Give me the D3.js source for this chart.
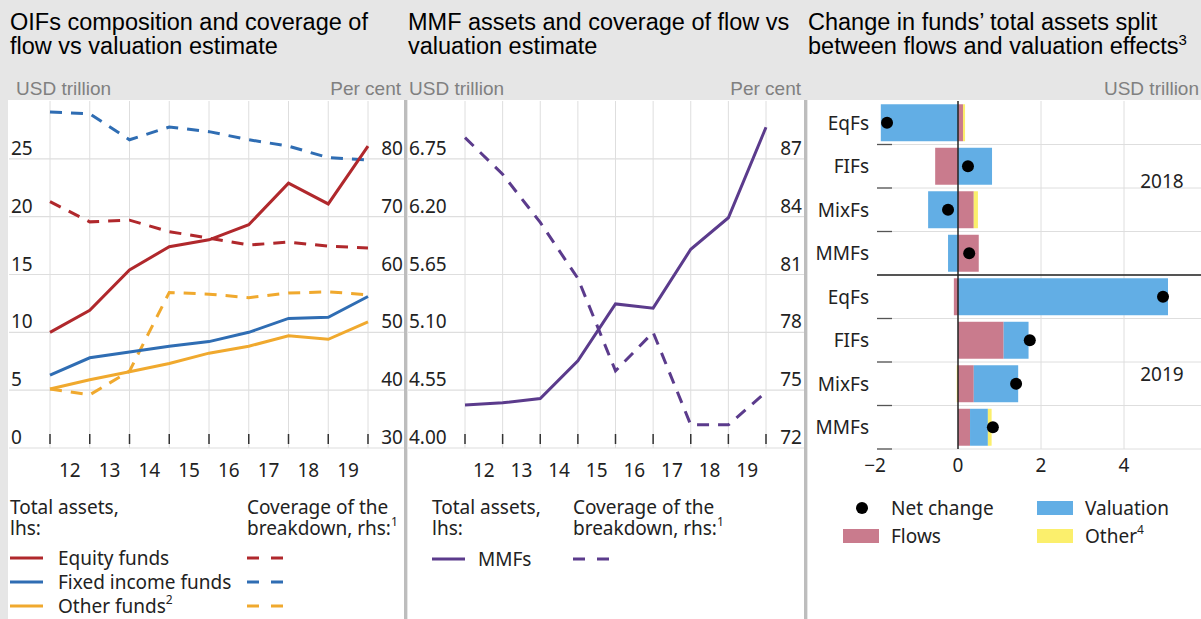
<!DOCTYPE html>
<html>
<head>
<meta charset="utf-8">
<script src="https://cdn.jsdelivr.net/npm/d3@7"></script>
<style>
  body { margin: 0; background: #e6e6e6; }
  svg text { font-family: "Noto Sans", sans-serif; }
  .title { font-family: "Liberation Sans", Arial, sans-serif; font-size: 23.5px; fill: #000; }
  .unit { font-family: "Liberation Sans", Arial, sans-serif; font-size: 19px; fill: #808080; }
  .tick { font-size: 19px; fill: #222; }
  .leg { font-size: 19px; fill: #222; }
</style>
</head>
<body>
<div class="chart"></div>
<script>
// panel 1 & 2: year-end values, 2011..2019
var years = [2011, 2012, 2013, 2014, 2015, 2016, 2017, 2018, 2019];
var yearLabels = ['12', '13', '14', '15', '16', '17', '18', '19'];

var equityAssets = [10.0, 11.9, 15.4, 17.4, 18.0, 19.3, 22.9, 21.1, 26.1];
var fixedAssets = [6.3, 7.8, 8.3, 8.8, 9.2, 10.0, 11.2, 11.3, 13.1];
var otherAssets = [5.1, 5.9, 6.6, 7.3, 8.2, 8.8, 9.7, 9.4, 10.9];
var equityCoverage = [72.6, 69.1, 69.4, 67.4, 66.3, 65.1, 65.6, 64.9, 64.6];
var fixedCoverage = [88.1, 87.8, 83.3, 85.5, 84.7, 83.3, 82.2, 80.2, 79.8];
var otherCoverage = [40.2, 39.2, 43.3, 56.9, 56.6, 56.0, 56.8, 57.0, 56.5];

var mmfAssets = [4.41, 4.43, 4.47, 4.83, 5.37, 5.33, 5.89, 6.19, 7.05];
var mmfCoverage = [88.1, 86.2, 83.7, 80.8, 76.0, 78.0, 73.2, 73.2, 74.9];

var p1LeftTicks = [0, 5, 10, 15, 20, 25];
var p1RightTicks = [30, 40, 50, 60, 70, 80];
var p2LeftTicks = [4.00, 4.55, 5.10, 5.65, 6.20, 6.75];
var p2RightTicks = [72, 75, 78, 81, 84, 87];

// panel 3
var fundTypes = ['EqFs', 'FIFs', 'MixFs', 'MMFs'];
var flows2018 = [0.12, -0.55, 0.38, 0.50];
var valuation2018 = [-1.86, 0.82, -0.72, -0.24];
var other2018 = [0.05, 0.0, 0.10, 0.0];
var net2018 = [-1.71, 0.24, -0.24, 0.27];
var flows2019 = [-0.10, 1.10, 0.38, 0.29];
var valuation2019 = [5.06, 0.60, 1.07, 0.43];
var other2019 = [0.0, 0.0, -0.03, 0.09];
var net2019 = [4.94, 1.73, 1.40, 0.84];
var changeTicks = [-2, 0, 2, 4];

var red = '#b0282c', blue = '#2f6db3', orange = '#f0a92e', purple = '#5b3b8c';
var flowCol = '#c97b8d', valCol = '#62aee5', othCol = '#fbef6c';
var gridCol = '#dedede';

var W = 1201, H = 619;
var svg = d3.select('.chart').append('svg')
    .attr('width', W).attr('height', H);

svg.append('rect').attr('width', W).attr('height', H).attr('fill', '#e6e6e6');
// white panels
[[8, 397], [408, 397], [808, 393]].forEach(function(p) {
    svg.append('rect').attr('x', p[0]).attr('y', 100).attr('width', p[1]).attr('height', H - 100)
        .attr('fill', '#fff');
});
[405.5, 805.5].forEach(function(x) {
    svg.append('line').attr('x1', x).attr('x2', x).attr('y1', 100).attr('y2', H)
        .attr('stroke', '#bdbdbd').attr('stroke-width', 3);
});

// titles
function title(x, lines) {
    var t = svg.append('text').attr('class', 'title').attr('x', x).attr('y', 30);
    lines.forEach(function(l, i) {
        t.append('tspan').attr('x', x).attr('dy', i ? 24 : 0).text(l[0]);
        if (l[1]) t.append('tspan').attr('dy', -9).attr('font-size', 15).text(l[1]);
    });
}
title(10, [['OIFs composition and coverage of'], ['flow vs valuation estimate']]);
title(408, [['MMF assets and coverage of flow vs'], ['valuation estimate']]);
title(808, [['Change in funds\u2019 total assets split'], ['between flows and valuation effects', '3']]);

function unit(x, anchor, txt) {
    svg.append('text').attr('class', 'unit').attr('x', x).attr('y', 95)
        .attr('text-anchor', anchor).text(txt);
}
unit(16, 'start', 'USD trillion');
unit(401, 'end', 'Per cent');
unit(409, 'start', 'USD trillion');
unit(801, 'end', 'Per cent');
unit(1199, 'end', 'USD trillion');

var plotTop = 101, plotBottom = 448;

// generic dual-axis line panel
function linePanel(opt) {
    var x = d3.scaleLinear().domain([2011, 2019]).range(opt.xr);
    var yL = d3.scaleLinear().domain(opt.lDom).range([plotBottom, plotTop]);
    var yR = d3.scaleLinear().domain(opt.rDom).range([plotBottom, plotTop]);
    var g = svg.append('g');

    // vertical grid
    g.selectAll('.vg').data(years).enter().append('line')
        .attr('x1', d => x(d)).attr('x2', d => x(d))
        .attr('y1', plotTop).attr('y2', plotBottom)
        .attr('stroke', gridCol).attr('stroke-width', 1);
    // horizontal grid
    g.selectAll('.hg').data(opt.lTicks).enter().append('line')
        .attr('x1', opt.px[0]).attr('x2', opt.px[1])
        .attr('y1', d => yL(d)).attr('y2', d => yL(d))
        .attr('stroke', gridCol).attr('stroke-width', 1.2);
    // year ticks
    g.selectAll('.yt').data(years).enter().append('line')
        .attr('x1', d => x(d)).attr('x2', d => x(d))
        .attr('y1', plotBottom - 14).attr('y2', plotBottom - 4)
        .attr('stroke', '#333').attr('stroke-width', 1.5);
    g.selectAll('.yl').data(yearLabels).enter().append('text')
        .attr('class', 'tick')
        .attr('x', (d, i) => x(years[i] + 0.5)).attr('y', 477)
        .attr('text-anchor', 'middle').text(d => d);

    // axis labels above grid lines
    g.selectAll('.ll').data(opt.lTicks).enter().append('text')
        .attr('class', 'tick').attr('x', opt.lx).attr('y', d => yL(d) - 4)
        .text(d => opt.fmt(d));
    g.selectAll('.rl').data(opt.rTicks).enter().append('text')
        .attr('class', 'tick').attr('x', opt.rx).attr('y', d => yR(d) - 4)
        .attr('text-anchor', 'end').text(d => d);

    opt.series.forEach(function(s) {
        var sc = s.rhs ? yR : yL;
        var line = d3.line().x((d, i) => x(years[i])).y(d => sc(d));
        g.append('path').datum(s.values)
            .attr('d', line).attr('fill', 'none')
            .attr('stroke', s.color).attr('stroke-width', 3)
            .attr('stroke-dasharray', s.rhs ? '12,9' : null);
    });
}

linePanel({
    xr: [50, 368], px: [9, 404],
    lDom: [0, 30], rDom: [30, 90],
    lTicks: p1LeftTicks, rTicks: p1RightTicks,
    lx: 11, rx: 403, fmt: d => d,
    series: [
        {values: equityCoverage, color: red, rhs: true},
        {values: fixedCoverage, color: blue, rhs: true},
        {values: otherCoverage, color: orange, rhs: true},
        {values: otherAssets, color: orange},
        {values: fixedAssets, color: blue},
        {values: equityAssets, color: red}
    ]
});

linePanel({
    xr: [465, 766], px: [408, 804],
    lDom: [4.00, 7.30], rDom: [72, 90],
    lTicks: p2LeftTicks, rTicks: p2RightTicks,
    lx: 409, rx: 802, fmt: d => d.toFixed(2),
    series: [
        {values: mmfCoverage, color: purple, rhs: true},
        {values: mmfAssets, color: purple}
    ]
});

// panel 3 - horizontal stacked bars
var rows = [];
fundTypes.forEach(function(f, i) {
    rows.push({key: '2018 ' + f, fund: f, flows: flows2018[i], valuation: valuation2018[i], other: other2018[i], net: net2018[i]});
});
fundTypes.forEach(function(f, i) {
    rows.push({key: '2019 ' + f, fund: f, flows: flows2019[i], valuation: valuation2019[i], other: other2019[i], net: net2019[i]});
});

var barBottom = 449;
var xC = d3.scaleLinear().domain([-2, 6]).range([875, 1207]);
var yC = d3.scaleBand().domain(rows.map(d => d.key)).range([plotTop, barBottom])
    .paddingInner(0.15).paddingOuter(0.075);
var rowH = (barBottom - plotTop) / rows.length;
var g3 = svg.append('g');

// grid
g3.selectAll('.vg').data([2, 4]).enter().append('line')
    .attr('x1', d => xC(d)).attr('x2', d => xC(d)).attr('y1', plotTop).attr('y2', barBottom)
    .attr('stroke', gridCol);
var bounds = d3.range(1, rows.length + 1);
g3.selectAll('.hg').data(bounds).enter().append('line')
    .attr('x1', 877).attr('x2', 1201)
    .attr('y1', d => plotTop + d * rowH).attr('y2', d => plotTop + d * rowH)
    .attr('stroke', gridCol);
g3.selectAll('.rt').data(bounds.filter(d => d !== 4)).enter().append('line')
    .attr('x1', 877).attr('x2', 892)
    .attr('y1', d => plotTop + d * rowH).attr('y2', d => plotTop + d * rowH)
    .attr('stroke', '#555').attr('stroke-width', 1.3);

var stack = d3.stack().keys(['flows', 'valuation', 'other']).offset(d3.stackOffsetDiverging);
var colors = {flows: flowCol, valuation: valCol, other: othCol};
g3.selectAll('.ser').data(stack(rows)).enter().append('g')
    .attr('fill', d => colors[d.key])
    .selectAll('rect').data(d => d).enter().append('rect')
    .attr('x', d => xC(Math.min(d[0], d[1])))
    .attr('width', d => Math.abs(xC(d[1]) - xC(d[0])))
    .attr('y', d => yC(d.data.key))
    .attr('height', yC.bandwidth());

// zero line and group divider
g3.append('line').attr('x1', xC(0)).attr('x2', xC(0)).attr('y1', plotTop).attr('y2', barBottom)
    .attr('stroke', '#222').attr('stroke-width', 1.5);
g3.append('line').attr('x1', 877).attr('x2', 1201)
    .attr('y1', plotTop + 4 * rowH).attr('y2', plotTop + 4 * rowH)
    .attr('stroke', '#222').attr('stroke-width', 1.5);

g3.selectAll('.dot').data(rows).enter().append('circle')
    .attr('cx', d => xC(d.net)).attr('cy', d => yC(d.key) + yC.bandwidth() / 2)
    .attr('r', 6).attr('fill', '#000');

g3.selectAll('.cat').data(rows).enter().append('text')
    .attr('class', 'tick').attr('x', 869)
    .attr('y', d => yC(d.key) + yC.bandwidth() / 2 + 7)
    .attr('text-anchor', 'end').text(d => d.fund);

g3.selectAll('.xl').data(changeTicks).enter().append('text')
    .attr('class', 'tick').attr('x', d => xC(d)).attr('y', 472)
    .attr('text-anchor', 'middle').text(d => d < 0 ? '\u2212' + Math.abs(d) : d);

g3.append('text').attr('class', 'tick').attr('x', 1162).attr('y', 188)
    .attr('text-anchor', 'middle').text('2018');
g3.append('text').attr('class', 'tick').attr('x', 1162).attr('y', 381)
    .attr('text-anchor', 'middle').text('2019');

// legends
function legText(x, y, txt, sup) {
    var t = svg.append('text').attr('class', 'leg').attr('x', x).attr('y', y).text(txt);
    if (sup) t.append('tspan').attr('dy', -9).attr('font-size', 12).text(sup);
}
// two-line heading as one text element
function legHead(x, y, l1, l2, sup) {
    var t = svg.append('text').attr('class', 'leg').attr('x', x).attr('y', y);
    t.append('tspan').attr('x', x).text(l1);
    t.append('tspan').attr('x', x).attr('dy', 21).text(l2);
    if (sup) t.append('tspan').attr('dy', -9).attr('font-size', 12).text(sup);
}
function legLine(x, y, color, dashed) {
    svg.append('line').attr('x1', x).attr('x2', x + (dashed ? 36 : 33)).attr('y1', y).attr('y2', y)
        .attr('stroke', color).attr('stroke-width', 3)
        .attr('stroke-dasharray', dashed ? '12,12' : null);
}

legHead(10, 514, 'Total assets,', 'lhs:');
legHead(247, 514, 'Coverage of the', 'breakdown, rhs:', '1');
[['Equity funds', red, null], ['Fixed income funds', blue, null], ['Other funds', orange, '2']]
    .forEach(function(r, i) {
        var y = 558 + i * 24;
        legLine(10, y, r[1], false);
        legText(58, y + 7, r[0], r[2]);
        legLine(247, y, r[1], true);
    });

legHead(432, 514, 'Total assets,', 'lhs:');
legHead(573, 514, 'Coverage of the', 'breakdown, rhs:', '1');
legLine(432, 559, purple, false);
legText(478, 566, 'MMFs');
legLine(573, 559, purple, true);

svg.append('circle').attr('cx', 862).attr('cy', 508).attr('r', 6).attr('fill', '#000');
legText(891, 515, 'Net change');
svg.append('rect').attr('x', 843).attr('y', 529).attr('width', 36).attr('height', 14).attr('fill', flowCol);
legText(891, 543, 'Flows');
svg.append('rect').attr('x', 1037).attr('y', 501).attr('width', 36).attr('height', 14).attr('fill', valCol);
legText(1085, 515, 'Valuation');
svg.append('rect').attr('x', 1037).attr('y', 529).attr('width', 36).attr('height', 14).attr('fill', othCol);
legText(1085, 543, 'Other', '4');
</script>
</body>
</html>
